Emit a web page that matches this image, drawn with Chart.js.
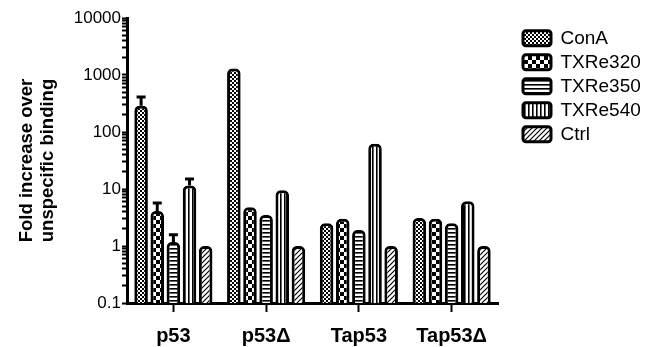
<!DOCTYPE html>
<html>
<head>
<meta charset="utf-8">
<script src="https://cdn.jsdelivr.net/npm/chart.js@4/dist/chart.umd.min.js"></script>
<style>
  body { margin: 0; background: #fff; }
  #chart { display: block; }
</style>
</head>
<body>
<canvas id="chart" width="646" height="347"></canvas>
<script>
// values
const groups = ['p53', 'p53\u0394', 'Tap53', 'Tap53\u0394'];
const seriesNames = ['ConA', 'TXRe320', 'TXRe350', 'TXRe540', 'Ctrl'];
const conA = [290, 1300, 2.5, 3.1];
const txre320 = [4.1, 4.8, 3.0, 3.0];
const txre350 = [1.17, 3.5, 1.9, 2.5];
const txre540 = [11.5, 9.5, 62, 6.1];
const ctrl = [1, 1, 1, 1];
// upper error (SEM) added above each bar
const conAErr = [120, 0, 0, 0];
const txre320Err = [1.6, 0, 0, 0];
const txre350Err = [0.4, 0, 0, 0];
const txre540Err = [3.5, 0, 0, 0];
const ctrlErr = [0, 0, 0, 0];
const yTickLabels = [0.1, 1, 10, 100, 1000, 10000];

const FONT = "'Liberation Sans', Arial, sans-serif";

function makePattern(kind) {
    const c = document.createElement('canvas');
    const g = c.getContext('2d');
    if (kind === 'fineCheck') {
        c.width = c.height = 4;
        g.fillStyle = '#000'; g.fillRect(0, 0, 4, 4);
        g.fillStyle = '#fff'; g.fillRect(0, 0, 2, 2); g.fillRect(2, 2, 2, 2);
    } else if (kind === 'bigCheck') {
        c.width = c.height = 8;
        g.fillStyle = '#fff'; g.fillRect(0, 0, 8, 8);
        g.fillStyle = '#000'; g.fillRect(0, 0, 4, 4); g.fillRect(4, 4, 4, 4);
    } else if (kind === 'hLines') {
        c.width = c.height = 4;
        g.fillStyle = '#fff'; g.fillRect(0, 0, 4, 4);
        g.fillStyle = '#000'; g.fillRect(0, 0, 4, 1.6);
    } else if (kind === 'vLines') {
        c.width = c.height = 4;
        g.fillStyle = '#fff'; g.fillRect(0, 0, 4, 4);
        g.fillStyle = '#000'; g.fillRect(0, 0, 1.6, 4);
    } else {
        c.width = c.height = 5;
        g.fillStyle = '#fff'; g.fillRect(0, 0, 5, 5);
        g.strokeStyle = '#000'; g.lineWidth = 1.2;
        g.beginPath();
        g.moveTo(-1, 6); g.lineTo(6, -1);
        g.moveTo(-1, 1); g.lineTo(1, -1);
        g.moveTo(4, 6); g.lineTo(6, 4);
        g.stroke();
    }
    return g.createPattern(c, 'repeat');
}

const fills = ['fineCheck', 'bigCheck', 'hLines', 'vLines', 'diag'].map(makePattern);
const values = [conA, txre320, txre350, txre540, ctrl];
const errs = [conAErr, txre320Err, txre350Err, txre540Err, ctrlErr];

// draws the upper error bars using the y scale
const errorBars = {
    id: 'errorBars',
    afterDatasetsDraw(chart) {
        const ctx = chart.ctx;
        const y = chart.scales.y;
        chart.data.datasets.forEach((ds, i) => {
            chart.getDatasetMeta(i).data.forEach((bar, j) => {
                const e = ds.errors[j];
                if (!e) return;
                const top = y.getPixelForValue(ds.data[j] + e);
                ctx.save();
                ctx.strokeStyle = '#000';
                ctx.lineWidth = 3;
                ctx.beginPath();
                ctx.moveTo(bar.x, bar.y);
                ctx.lineTo(bar.x, top);
                ctx.moveTo(bar.x - 4.5, top);
                ctx.lineTo(bar.x + 4.5, top);
                ctx.stroke();
                ctx.restore();
            });
        });
    }
};

new Chart(document.getElementById('chart'), {
    type: 'bar',
    data: {
        labels: groups,
        datasets: seriesNames.map((name, i) => ({
            label: name,
            data: values[i],
            errors: errs[i],
            backgroundColor: fills[i],
            borderColor: '#000',
            borderWidth: 3,
            borderRadius: 5,
            categoryPercentage: 0.87,
            barPercentage: 0.84
        }))
    },
    options: {
        responsive: false,
        animation: false,
        devicePixelRatio: 1,
        layout: { padding: { left: 13, top: 18, right: 0, bottom: 0 } },
        plugins: {
            tooltip: { enabled: false },
            legend: {
                position: 'right',
                align: 'start',
                maxWidth: 128,
                title: { display: true, text: '', font: { size: 4 }, padding: { top: 0, bottom: 1 } },
                labels: {
                    color: '#000',
                    font: { family: FONT, size: 19 },
                    boxWidth: 28,
                    boxHeight: 15,
                    padding: 5,
                    useBorderRadius: true,
                    borderRadius: 3
                }
            }
        },
        scales: {
            x: {
                grid: { display: true, offset: false, drawOnChartArea: false, tickLength: 9, tickWidth: 2, tickColor: '#000' },
                border: { display: true, color: '#000', width: 3 },
                ticks: { color: '#000', padding: 12, font: { family: FONT, size: 20, weight: 'bold' } },
                afterFit: s => { s.height = 44; }
            },
            y: {
                type: 'logarithmic',
                min: 0.1,
                max: 10000,
                afterBuildTicks: s => {
                    const t = [];
                    for (let e = -1; e < 4; e++) {
                        for (let m = 1; m < 10; m++) t.push({ value: m * Math.pow(10, e) });
                    }
                    t.push({ value: 10000 });
                    s.ticks = t;
                },
                grid: { display: true, drawOnChartArea: false, tickLength: 5, tickWidth: 2, tickColor: '#000' },
                border: { display: true, color: '#000', width: 3 },
                ticks: {
                    autoSkip: false,
                    color: '#000',
                    padding: 1,
                    font: { family: FONT, size: 17 },
                    callback: v => {
                        const hit = yTickLabels.find(l => Math.abs(l - v) < l * 1e-6);
                        return hit === undefined ? '' : String(hit);
                    }
                },
                title: {
                    display: true,
                    text: ['Fold increase over', 'unspecific binding'],
                    color: '#000',
                    font: { family: FONT, size: 18.5, weight: 'bold', lineHeight: 1.1 },
                    padding: { top: 4, bottom: 4 }
                },
                afterFit: s => { s.width = 114; }
            },
            gap: {
                type: 'linear',
                position: 'right',
                display: true,
                grid: { display: false },
                border: { display: false },
                ticks: { display: false },
                afterFit: s => { s.width = 20; }
            }
        }
    },
    plugins: [errorBars]
});
</script>
</body>
</html>
